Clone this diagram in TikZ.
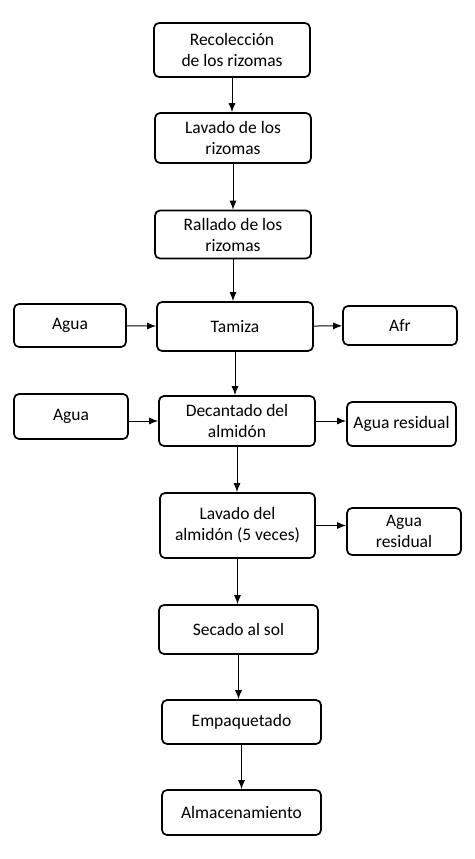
\documentclass[tikz,border=0pt]{standalone}
\usepackage{fontspec}
\setmainfont{Carlito}
\usetikzlibrary{arrows.meta}

\begin{document}
\begin{tikzpicture}[x=1pt,y=-1pt]
    \tikzset{stage/.style = {shape=rectangle,draw,rounded corners=5pt,line width=1.7pt,align=center,inner sep=0pt,font=\fontsize{17.5}{21}\selectfont}}
    \tikzset{edge/.style = {->,> = {Latex[length=9pt,width=7pt]},line width=1pt}}
    \useasboundingbox (0,0) rectangle (474,859);
    % vertices
    \node[stage,minimum width=156pt,minimum height=54pt] (rec) at (232,50) {Recolección\\de los rizomas};
    \node[stage,minimum width=156pt,minimum height=50pt] (lav) at (233,138) {Lavado de los\\rizomas};
    \node[stage,minimum width=156pt,minimum height=48pt] (ral) at (233,234.5) {Rallado de los\\rizomas};
    \node[stage,minimum width=156pt,minimum height=49pt] (tam) at (235,326.5) {Tamiza};
    \node[stage,minimum width=112pt,minimum height=43pt] (agua1) at (70,325.5) {Agua};
    \node[stage,minimum width=114pt,minimum height=39pt] (afr) at (400,325.5) {Afr};
    \node[stage,minimum width=156pt,minimum height=50pt] (dec) at (237,421) {Decantado del\\almidón};
    \node[stage,minimum width=114pt,minimum height=45pt] (agua2) at (71,416.5) {Agua};
    \node[stage,minimum width=109pt,minimum height=44pt] (ares1) at (401.5,424) {Agua residual};
    \node[stage,minimum width=155pt,minimum height=65pt] (lalm) at (237.5,525.5) {Lavado del\\almidón (5 veces)};
    \node[stage,minimum width=114pt,minimum height=47pt] (ares2) at (404,531.5) {Agua\\residual};
    \node[stage,minimum width=159pt,minimum height=49pt] (sec) at (238.5,629.5) {Secado al sol};
    \node[stage,minimum width=159pt,minimum height=44pt] (emp) at (241.5,722) {Empaquetado};
    \node[stage,minimum width=159pt,minimum height=45pt] (alm) at (241.5,812.5) {Almacenamiento};
    %edges
    \draw[edge] (rec.south) -- (rec.south |- lav.north);
    \draw[edge] (lav.south) -- (lav.south |- ral.north);
    \draw[edge] (ral.south) -- (ral.south |- tam.north);
    \draw[edge] (agua1) to (tam);
    \draw[edge] (tam) to (afr);
    \draw[edge] (tam.south) -- (tam.south |- dec.north);
    \draw[edge] (agua2.east |- dec.west) -- (dec.west);
    \draw[edge] (dec.east) -- (ares1.west |- dec.east);
    \draw[edge] (dec.south) -- (dec.south |- lalm.north);
    \draw[edge] (lalm.east) -- (ares2.west |- lalm.east);
    \draw[edge] (lalm.south) -- (lalm.south |- sec.north);
    \draw[edge] (sec.south) -- (sec.south |- emp.north);
    \draw[edge] (emp.south) -- (emp.south |- alm.north);
\end{tikzpicture}
\end{document}
